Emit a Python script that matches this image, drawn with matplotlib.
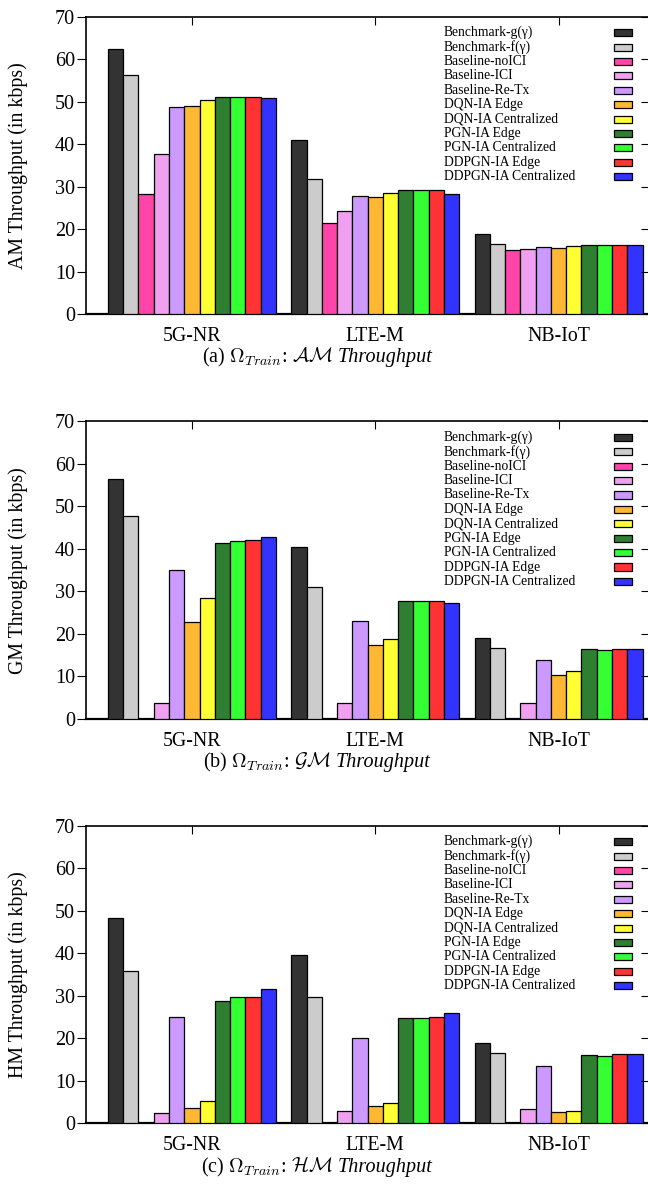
import numpy as np
import matplotlib
matplotlib.use("Agg")
import matplotlib.pyplot as plt
from matplotlib.patches import Rectangle

plt.rcParams['font.family'] = ['Liberation Serif', 'DejaVu Serif']
plt.rcParams['mathtext.fontset'] = 'cm'

# ---- data (kbps) ----
techs = ["5G-NR", "LTE-M", "NB-IoT"]
schemes = ["Benchmark-g(γ)", "Benchmark-f(γ)", "Baseline-noICI", "Baseline-ICI",
           "Baseline-Re-Tx", "DQN-IA Edge", "DQN-IA Centralized", "PGN-IA Edge",
           "PGN-IA Centralized", "DDPGN-IA Edge", "DDPGN-IA Centralized"]
colors = ["#333333", "#cccccc", "#ff44aa", "#f0a0f0", "#cc99ff", "#ffb833",
          "#ffff33", "#2f7f33", "#33ff33", "#ff3333", "#3333ff"]

# one row per scheme: [5G-NR, LTE-M, NB-IoT]
am = [[62.4, 40.9, 19.0],
      [56.2, 31.8, 16.5],
      [28.3, 21.5, 15.2],
      [37.7, 24.4, 15.3],
      [48.8, 27.9, 15.9],
      [48.9, 27.7, 15.5],
      [50.3, 28.5, 16.0],
      [51.1, 29.3, 16.4],
      [51.0, 29.2, 16.2],
      [51.1, 29.2, 16.2],
      [50.8, 28.3, 16.2]]
gm = [[56.4, 40.5, 19.0],
      [47.7, 31.1, 16.6],
      [0.0, 0.0, 0.1],
      [3.8, 3.8, 3.8],
      [35.0, 23.1, 13.9],
      [22.8, 17.3, 10.3],
      [28.5, 18.7, 11.2],
      [41.5, 27.7, 16.4],
      [41.8, 27.7, 16.25],
      [42.0, 27.7, 16.4],
      [42.7, 27.3, 16.4]]
hm = [[48.4, 39.5, 19.0],
      [35.8, 29.8, 16.6],
      [0.0, 0.0, 0.1],
      [2.5, 2.8, 3.4],
      [25.1, 20.1, 13.4],
      [3.5, 4.1, 2.7],
      [5.3, 4.7, 2.9],
      [28.8, 24.8, 16.1],
      [29.6, 24.7, 15.9],
      [29.6, 25.1, 16.25],
      [31.6, 25.9, 16.25]]

panels = [(am, "AM Throughput (in kbps)", r"(a) $\Omega_{Train}$: $\mathcal{AM}$"),
          (gm, "GM Throughput (in kbps)", r"(b) $\Omega_{Train}$: $\mathcal{GM}$"),
          (hm, "HM Throughput (in kbps)", r"(c) $\Omega_{Train}$: $\mathcal{HM}$")]

W, H = 648, 1201
fig = plt.figure(figsize=(W / 100, H / 100), dpi=100)
renderer = fig.canvas.get_renderer()

left_px, right_px = 86, 648
ax_h = 297.6
bottoms_px = [314.3, 719.0, 1123.3]
caption_px = [357, 762, 1167]

n = len(schemes)
x = np.arange(len(techs))
width = 1.0 / (n + 1)

for (vals, ylab, cap), bpx, cpx in zip(panels, bottoms_px, caption_px):
    ax = fig.add_axes([left_px / W, 1 - bpx / H, (right_px - left_px) / W, ax_h / H])
    for k in range(n):
        ax.bar(x + (k - (n - 1) / 2) * width, vals[k], width, color=colors[k],
               edgecolor="black", linewidth=0.9, zorder=3)
    ax.set_xlim(-0.578, 2.488)
    ax.set_ylim(0, 70)
    ax.set_yticks(range(0, 71, 10))
    ax.set_xticks(x)
    ax.set_xticklabels(techs, fontsize=14.3)
    ax.tick_params(axis='y', which='both', direction='out', left=True, right=False,
                   length=6.5, width=0.8, labelsize=14.5, pad=1.5)
    ax.tick_params(axis='x', direction='in', top=True, bottom=True, length=6,
                   width=0.8, pad=9)
    # right side mirror ticks (inward)
    ax2 = ax.twinx()
    ax2.set_ylim(0, 70)
    ax2.set_yticks(range(0, 71, 10))
    ax2.tick_params(axis='y', direction='in', length=5, width=0.8, labelright=False)
    for a in (ax, ax2):
        a.spines['right'].set_visible(False)
    for s in ('left', 'top'):
        ax.spines[s].set_linewidth(1.2)
    ax.spines['bottom'].set_linewidth(1.6)
    ax2.spines['top'].set_visible(False)
    ax2.spines['left'].set_visible(False)
    ax2.spines['bottom'].set_visible(False)

    ax.set_ylabel(ylab, fontsize=14.3)
    ax.yaxis.set_label_coords(-0.104, 0.5)

    # gnuplot style key: text left, boxes in a right column
    for k, (name, c) in enumerate(zip(schemes, colors)):
        yc = 1 - (16.0 + 14.4 * k) / ax_h
        ax.text(0.637, yc, name, transform=ax.transAxes, fontsize=9.8,
                ha='left', va='center', zorder=5)
        ax.add_patch(Rectangle((0.9395, yc - 0.0118), 0.032, 0.0236,
                               transform=ax.transAxes, facecolor=c,
                               edgecolor='black', linewidth=0.9, zorder=5,
                               clip_on=False))

    # caption: math part + italic serif "Throughput", centred as a whole
    yf = 1 - (cpx + 5) / H
    t1 = fig.text(0, yf, cap, fontsize=14.5, ha='left', va='baseline')
    t2 = fig.text(0, yf, "Throughput", fontsize=14.5, style='italic',
                  ha='left', va='baseline')
    gap = 5
    w1 = t1.get_window_extent(renderer).width
    w2 = t2.get_window_extent(renderer).width
    x0 = 0.489 * W - (w1 + gap + w2) / 2
    t1.set_x(x0 / W)
    t2.set_x((x0 + w1 + gap) / W)

fig.savefig("out.png", dpi=100)
